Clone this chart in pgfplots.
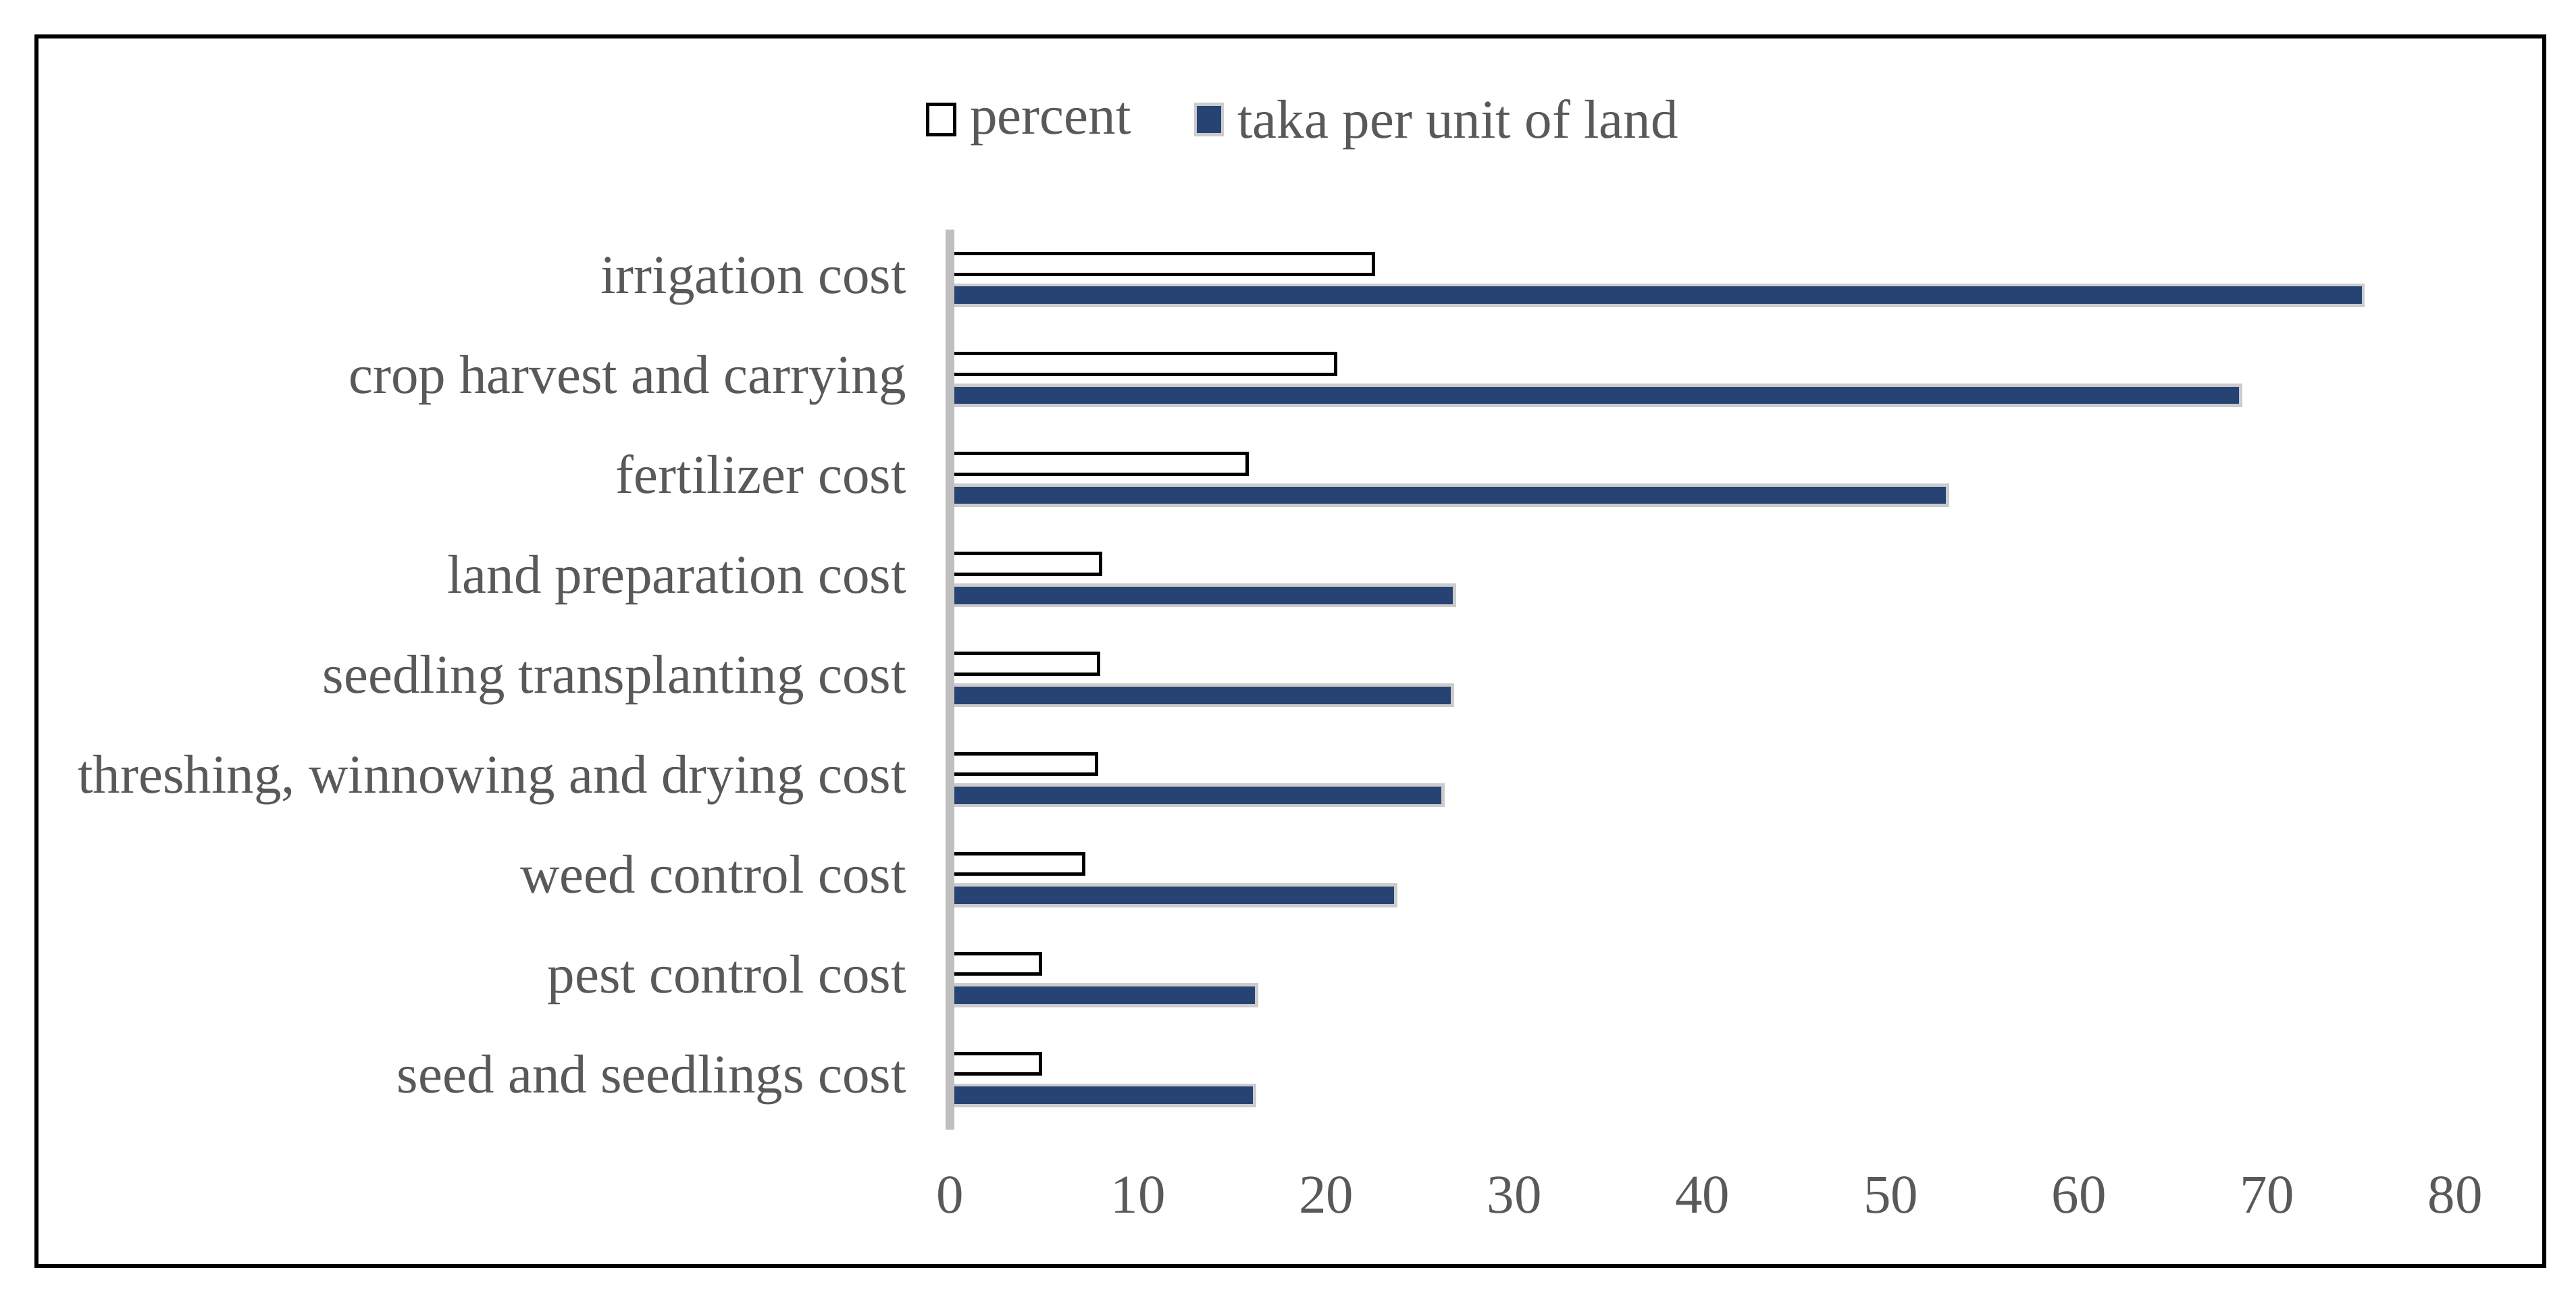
\documentclass[border=0pt]{standalone}
\usepackage{fontspec}
\setmainfont{Liberation Serif}
\usepackage{pgfplots}
\pgfplotsset{compat=1.18}

\definecolor{txt}{RGB}{89,89,89}
\definecolor{taka}{RGB}{39,67,116}
\definecolor{takaedge}{RGB}{204,204,204}
\definecolor{axisgray}{RGB}{191,191,191}

\begin{document}
\begin{tikzpicture}[font=\fontsize{16.2pt}{19pt}\selectfont]
% page and outer frame (1px = 0.2pt)
\path[use as bounding box] (0,0) rectangle (762.8pt,382.4pt);
\draw[line width=1.1pt] (10.8pt,7.4pt) rectangle (753.4pt,371.6pt);

\begin{axis}[
    at={(281.3pt,47.8pt)}, anchor=south west,
    scale only axis, width=445.8pt, height=266.6pt,
    xmin=0, xmax=80, ymin=-0.5, ymax=8.5,
    xtick={0,10,...,80},
    ytick={0,...,8},
    yticklabels={seed and seedlings cost, pest control cost, weed control cost,
        {threshing, winnowing and drying cost}, seedling transplanting cost,
        land preparation cost, fertilizer cost, crop harvest and carrying,
        irrigation cost},
    separate axis lines,
    axis x line*=bottom, axis y line*=left,
    x axis line style={draw=none},
    y axis line style={draw=axisgray, line width=2.5pt, -},
    major tick length=0pt, tick style={draw=none},
    tick label style={text=txt},
    xticklabel style={inner sep=0pt, anchor=north, yshift=-13.8pt},
    yticklabel style={inner sep=0pt, anchor=east, xshift=-12.8pt,
        text height=0.9em, text depth=0.1em},
    /pgf/number format/assume math mode=true,
    axis on top,
    bar width=6.1pt,
    legend columns=2,
    legend style={at={(0.234,1.1203)}, anchor=center, draw=none, fill=none,
        text=txt, inner sep=0pt,
        nodes={inner sep=0pt},
        /tikz/every odd column/.append style={column sep=4pt},
        /tikz/every even column/.append style={column sep=18.6pt}},
    legend image code/.code={\draw[#1] (0pt,-3.9pt) rectangle (8pt,5.1pt);},
]
\addplot[xbar, bar shift=4.65pt, fill=white, draw=black, line width=1pt]
    coordinates {(4.8,0) (4.8,1) (7.1,2) (7.8,3) (7.9,4) (8.0,5) (15.8,6) (20.5,7) (22.5,8)};
\addplot[xbar, bar shift=-4.65pt, fill=taka, draw=takaedge, line width=0.95pt]
    coordinates {(16.2,0) (16.3,1) (23.7,2) (26.2,3) (26.7,4) (26.8,5) (53.0,6) (68.6,7) (75.1,8)};
\legend{percent, taka per unit of land}
\end{axis}
\end{tikzpicture}
\end{document}
